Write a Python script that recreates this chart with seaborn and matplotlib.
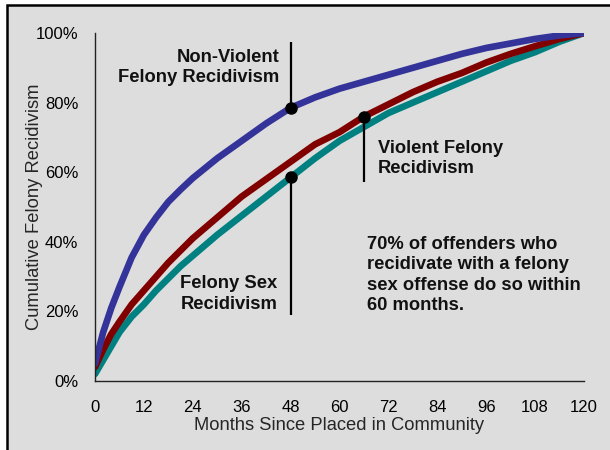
import pandas as pd
import numpy as np
import matplotlib
matplotlib.use("Agg")
import matplotlib.pyplot as plt
import seaborn as sns
from matplotlib.patches import Rectangle
from matplotlib.ticker import PercentFormatter

# months since placed in community, and cumulative % of each recidivism type
months = [0, 2, 4, 6, 9, 12, 15, 18, 21, 24, 30, 36, 42, 48, 54, 60,
          66, 72, 78, 84, 90, 96, 102, 108, 114, 120]
non_violent = [5, 14, 21, 27, 35.5, 42, 47, 51.5, 55, 58.3, 64, 69, 74, 78.5, 81.5, 84,
               86, 88, 90, 92, 94, 95.7, 97, 98.3, 99.3, 100]
violent = [4, 9, 13.5, 17, 22, 26, 30, 34, 37.5, 41, 47, 53, 58, 63, 68, 71.5,
           76, 79.5, 83, 86, 88.5, 91.5, 94, 96.2, 98.3, 100]
sex_felony = [2, 6, 10, 14, 18.5, 22, 26, 29.5, 33, 36, 42, 47.5, 53, 58.5, 64, 69,
              73, 77, 80, 83, 86, 89, 92, 94.5, 97.5, 100]

types = ['Felony Sex', 'Violent', 'Non-Violent']
palette = {'Non-Violent': '#333399', 'Violent': '#800000', 'Felony Sex': '#008080'}

# annotation anchors (month where the callout touches the curve)
nv_month = 48
v_month = 66
sx_month = 48

df = pd.DataFrame({
    'Month': months * 3,
    'Pct': sex_felony + violent + non_violent,
    'Type': ['Felony Sex'] * len(months) + ['Violent'] * len(months) + ['Non-Violent'] * len(months),
})

sns.set_style("white")
plt.rcParams['font.family'] = ['Liberation Sans', 'DejaVu Sans']

W, H = 610, 450
fig = plt.figure(figsize=(W / 100, H / 100), dpi=100)
fig.patch.set_facecolor('white')
# gray panel with black frame (cropped on the right and bottom)
fig.add_artist(Rectangle((7 / W, -0.1), 1.0, 1 - 5 / H + 0.1, transform=fig.transFigure,
                         facecolor='#dddddd', edgecolor='black', lw=1.8, zorder=-10))

ax = fig.add_axes([95 / W, 1 - 381 / H, (584 - 95) / W, (381 - 33) / H])
ax.set_facecolor('none')

sns.lineplot(data=df, x='Month', y='Pct', hue='Type', hue_order=types, palette=palette,
             lw=4.8, ax=ax, legend=False)

ax.set_xlim(0, 120)
ax.set_ylim(0, 100)
ax.set_xticks(np.arange(0, 121, 12))
ax.set_yticks(np.arange(0, 101, 20))
ax.yaxis.set_major_formatter(PercentFormatter(decimals=0))
ax.tick_params(length=0, labelsize=12, colors='black')
ax.tick_params(axis='x', pad=14)
ax.tick_params(axis='y', pad=12)
for s in ['top', 'right']:
    ax.spines[s].set_visible(False)
for s in ['left', 'bottom']:
    ax.spines[s].set_color('#222222')
    ax.spines[s].set_linewidth(1)

ax.set_xlabel('Months Since Placed in Community', fontsize=13.2)
ax.set_ylabel('Cumulative Felony Recidivism', fontsize=13.2)
ax.xaxis.set_label_coords(0.5, -0.103)
ax.yaxis.set_label_coords(-0.106, 0.5)

bold = dict(fontsize=13.2, fontweight='bold', color='#111111', linespacing=1.26)

# Non-violent callout
y_nv = non_violent[months.index(nv_month)]
ax.plot([nv_month, nv_month], [y_nv, 97.4], color='black', lw=1.6, solid_capstyle='butt')
ax.plot(nv_month, y_nv, 'o', color='black', ms=8)
ax.text(45.2, 90, 'Non-Violent\nFelony Recidivism', ha='right', va='center', **bold)

# Violent callout
y_v = violent[months.index(v_month)]
ax.plot([v_month, v_month], [y_v, 57.2], color='black', lw=1.6, solid_capstyle='butt')
ax.plot(v_month, y_v, 'o', color='black', ms=8)
ax.text(69.4, 64, 'Violent Felony\nRecidivism', ha='left', va='center', **bold)

# Felony sex callout
y_sx = sex_felony[months.index(sx_month)]
ax.plot([sx_month, sx_month], [y_sx, 19], color='black', lw=1.6, solid_capstyle='butt')
ax.plot(sx_month, y_sx, 'o', color='black', ms=8)
ax.text(44.7, 25, 'Felony Sex\nRecidivism', ha='right', va='center', **bold)

ax.text(66.7, 30.5, '70% of offenders who\nrecidivate with a felony\nsex offense do so within\n60 months.',
        ha='left', va='center', **bold)

plt.savefig('out.png', dpi=100)
